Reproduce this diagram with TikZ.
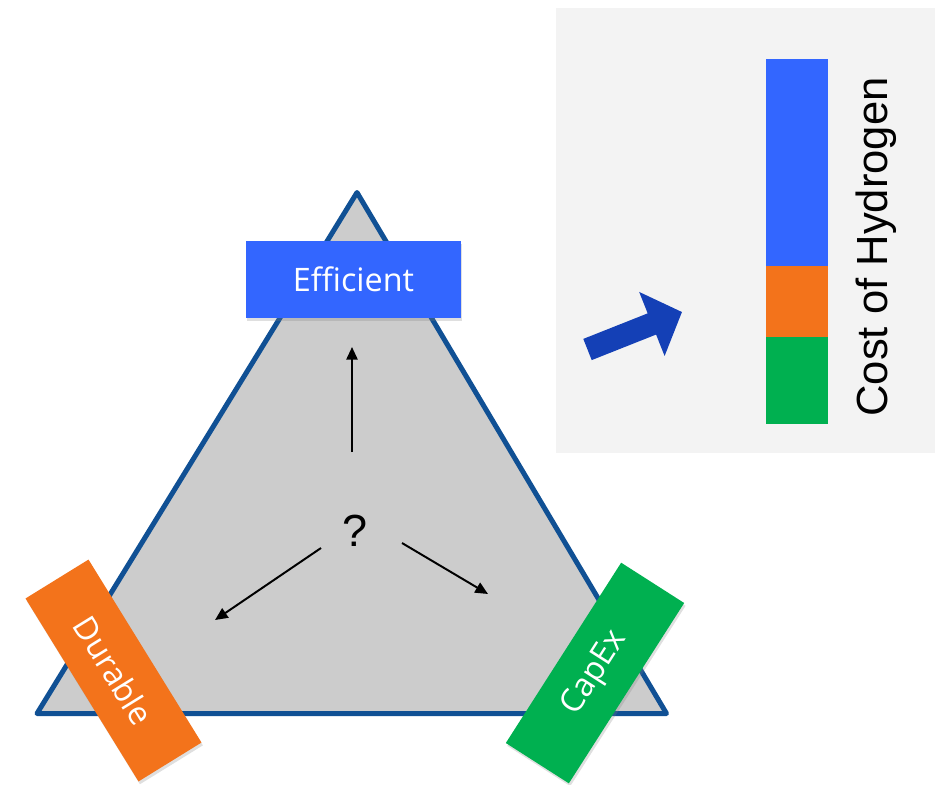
\documentclass[tikz,border=0pt]{standalone}
\usepackage{fontspec}
\setmainfont{Liberation Sans}
\newfontfamily\boxfont{Open Sans}
\usetikzlibrary{positioning, arrows.meta, shadows}
\definecolor{eff_blue}{RGB}{51,102,255}
\definecolor{dur_orange}{RGB}{243,115,27}
\definecolor{capex_green}{RGB}{0,176,80}
\definecolor{tri_gray}{RGB}{204,204,204}
\definecolor{tri_edge}{RGB}{16,80,148}
\definecolor{panel_gray}{RGB}{243,243,243}
\definecolor{push_blue}{RGB}{20,64,182}

\begin{document}
\begin{tikzpicture}
    [
        x=0.025cm, y=-0.025cm,
        label_box/.style={text=white, inner sep=0pt, font=\boxfont\fontsize{23}{27}\selectfont, drop shadow={opacity=0.25, shadow xshift=1pt, shadow yshift=-2pt}},
        thin_arrow/.style={-{Triangle[length=9pt 0, width=8pt 0]}, line width=1.4pt, color=black},
    ]
        \useasboundingbox (0,0) rectangle (945,784) ;
        \fill[panel_gray] (556,8) rectangle (935,453) ;
        \draw[tri_edge, fill=tri_gray, line width=0.125cm, line join=round] (357,192.5) -- (666.5,713.5) -- (37,713.5) -- cycle ;
        \node[label_box, fill=eff_blue, minimum width=5.375cm, minimum height=1.925cm] (efficient) at (353.5,279.5) {Efficient} ;
        \node[label_box, fill=dur_orange, minimum width=5.375cm, minimum height=1.85cm, rotate=-58.3] (durable) at (113.5,670.5) {Durable} ;
        \node[label_box, fill=capex_green, minimum width=5.35cm, minimum height=1.87cm, rotate=57.4] (capex) at (595,673) {CapEx} ;
        \node[font=\fontsize{32}{38}\selectfont] (qmark) at (355,531) {?} ;
        \coordinate (up_from) at (352,452) ;
        \coordinate (up_to) at (352,347) ;
        \coordinate (left_from) at (321,548) ;
        \coordinate (left_to) at (215,620) ;
        \coordinate (right_from) at (402,543) ;
        \coordinate (right_to) at (488,594) ;
        \draw[thin_arrow] (up_from) -- (up_to) ;
        \draw[thin_arrow] (left_from) -- (left_to) ;
        \draw[thin_arrow] (right_from) -- (right_to) ;
        \coordinate (push_from) at (587.5,349.5) ;
        \coordinate (push_to) at (682,312) ;
        \draw[-{Triangle[length=0.81cm 0, width=1.675cm 0]}, line width=0.57cm, color=push_blue] (push_from) -- (push_to) ;
        \fill[eff_blue] (766,59) rectangle (828,266) ;
        \fill[dur_orange] (766,266) rectangle (828,337) ;
        \fill[capex_green] (766,337) rectangle (828,424) ;
        \node[rotate=90, inner sep=0pt, font=\fontsize{31}{36}\selectfont] (cost_label) at (876,247) {Cost of Hydrogen} ;
    \end{tikzpicture}
\end{document}
